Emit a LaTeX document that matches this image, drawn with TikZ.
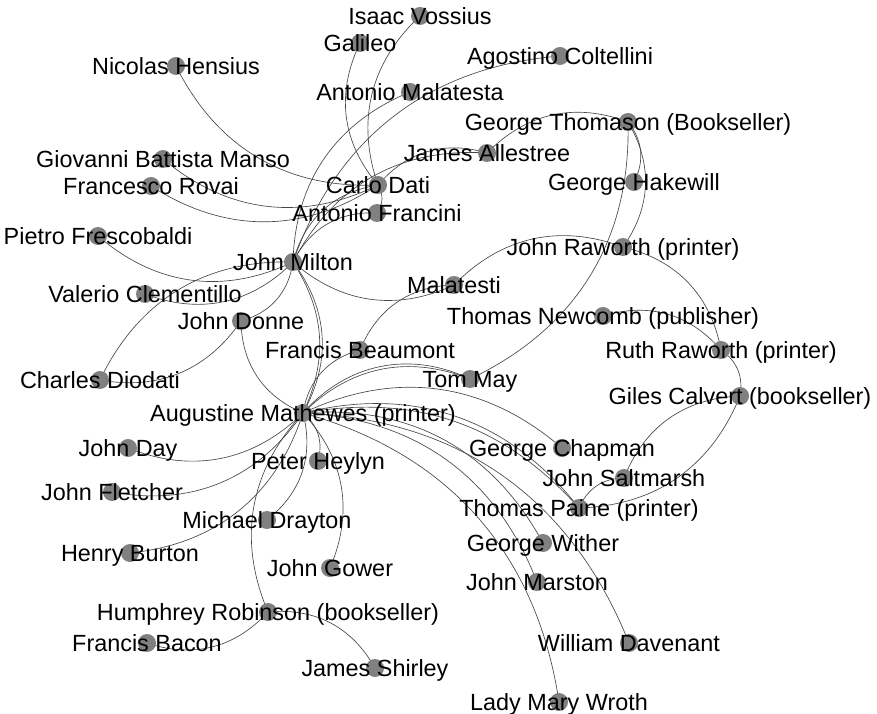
\documentclass[tikz,border=0pt]{standalone}
\usepackage{fontspec}
\setmainfont{Liberation Sans}
\definecolor{nodegray}{RGB}{128,128,128}
\definecolor{edgegray}{RGB}{70,70,70}
\pgfdeclarelayer{edgelayer}
\pgfdeclarelayer{labellayer}
\pgfsetlayers{edgelayer,main,labellayer}
\begin{document}
\begin{tikzpicture}[x=1pt,y=1pt,
  dot/.style={circle,fill=nodegray,draw=none,minimum size=18pt,inner sep=0pt},
  lbl/.style={font=\fontsize{23.4}{23.4}\selectfont,inner sep=0pt,text height=16.8pt,text depth=0pt,text=black},
  edge/.style={draw=edgegray,line width=0.65pt}]
\useasboundingbox (0,0) rectangle (877,713);
\foreach \n/\x/\y in {
 vossius/420/16, galileo/360/43, coltellini/560/56, hensius/176/66,
 malatesta/410/92, thomason/628/122, allestree/487/153, manso/163/159,
 rovai/151/186, dati/378/185, hakewill/634/182, francini/377/213,
 frescobaldi/98/236, jraworth/623/247, milton/293/262, malatesti/454/285,
 clementillo/145/294, newcomb/603/316, donne/241/321, beaumont/360/350,
 rraworth/721/350, diodati/100/380, may/470/379, calvert/740/396,
 mathewes/303/413, day/128/448, chapman/562/448, heylyn/318/461,
 saltmarsh/624/478, fletcher/112/492, paine/579/508, drayton/267/520,
 wither/543/543, burton/130/553, gower/330/568, marston/537/582,
 robinson/268/612, bacon/147/643, davenant/629/643, shirley/375/668,
 wroth/559/702}
 { \node[dot] (\n) at (\x,713-\y) {}; }
\begin{pgfonlayer}{labellayer}
\foreach \n/\t in {
 vossius/{Isaac Vossius}, galileo/{Galileo}, coltellini/{Agostino Coltellini},
 hensius/{Nicolas Hensius}, malatesta/{Antonio Malatesta},
 thomason/{George Thomason (Bookseller)}, allestree/{James Allestree},
 manso/{Giovanni Battista Manso}, rovai/{Francesco Rovai}, dati/{Carlo Dati},
 hakewill/{George Hakewill}, francini/{Antonio Francini},
 frescobaldi/{Pietro Frescobaldi}, jraworth/{John Raworth (printer)},
 milton/{John Milton}, malatesti/{Malatesti}, clementillo/{Valerio Clementillo},
 newcomb/{Thomas Newcomb (publisher)}, donne/{John Donne},
 beaumont/{Francis Beaumont}, rraworth/{Ruth Raworth (printer)},
 diodati/{Charles Diodati}, may/{Tom May}, calvert/{Giles Calvert (bookseller)},
 mathewes/{Augustine Mathewes (printer)}, day/{John Day},
 chapman/{George Chapman}, heylyn/{Peter Heylyn}, saltmarsh/{John Saltmarsh},
 fletcher/{John Fletcher}, paine/{Thomas Paine (printer)},
 drayton/{Michael Drayton}, wither/{George Wither}, burton/{Henry Burton},
 gower/{John Gower}, marston/{John Marston},
 robinson/{Humphrey Robinson (bookseller)}, bacon/{Francis Bacon},
 davenant/{William Davenant}, shirley/{James Shirley}, wroth/{Lady Mary Wroth}}
 { \node[lbl] (\n-t) at (\n) {\t}; }
\end{pgfonlayer}
\begin{pgfonlayer}{edgelayer}
% bend left edges
\foreach \a/\b in {
 dati/francini, milton/malatesta, milton/coltellini, milton/dati,
 milton/francini, milton/allestree, dati/allestree, allestree/thomason,
 thomason/hakewill, thomason/jraworth, thomason/may, beaumont/malatesti,
 mathewes/beaumont, diodati/milton, milton/mathewes, mathewes/may,
 mathewes/chapman, mathewes/paine, mathewes/wither, mathewes/marston,
 mathewes/davenant, mathewes/wroth, mathewes/day, mathewes/fletcher,
 mathewes/burton, mathewes/drayton, mathewes/heylyn, mathewes/gower,
 robinson/bacon, robinson/shirley, jraworth/rraworth, newcomb/rraworth,
 rraworth/calvert, calvert/paine}
 { \draw[edge] (\a.center) to[bend left=33] (\b.center); }
% bend right edges
\foreach \a/\b in {
 hensius/dati, galileo/dati, vossius/dati, manso/dati, rovai/dati,
 milton/malatesti, jraworth/malatesti, clementillo/milton,
 frescobaldi/milton, diodati/donne, donne/milton, donne/mathewes,
 mathewes/robinson, calvert/saltmarsh, saltmarsh/paine}
 { \draw[edge] (\a.center) to[bend right=33] (\b.center); }
% doubled edges
\draw[edge] (mathewes.center) to[bend left=37] (may.center);
\draw[edge] (mathewes.center) to[bend left=29] (paine.center);
\draw[edge] (milton.center) to[bend left=29] (mathewes.center);
\end{pgfonlayer}
\end{tikzpicture}
\end{document}
